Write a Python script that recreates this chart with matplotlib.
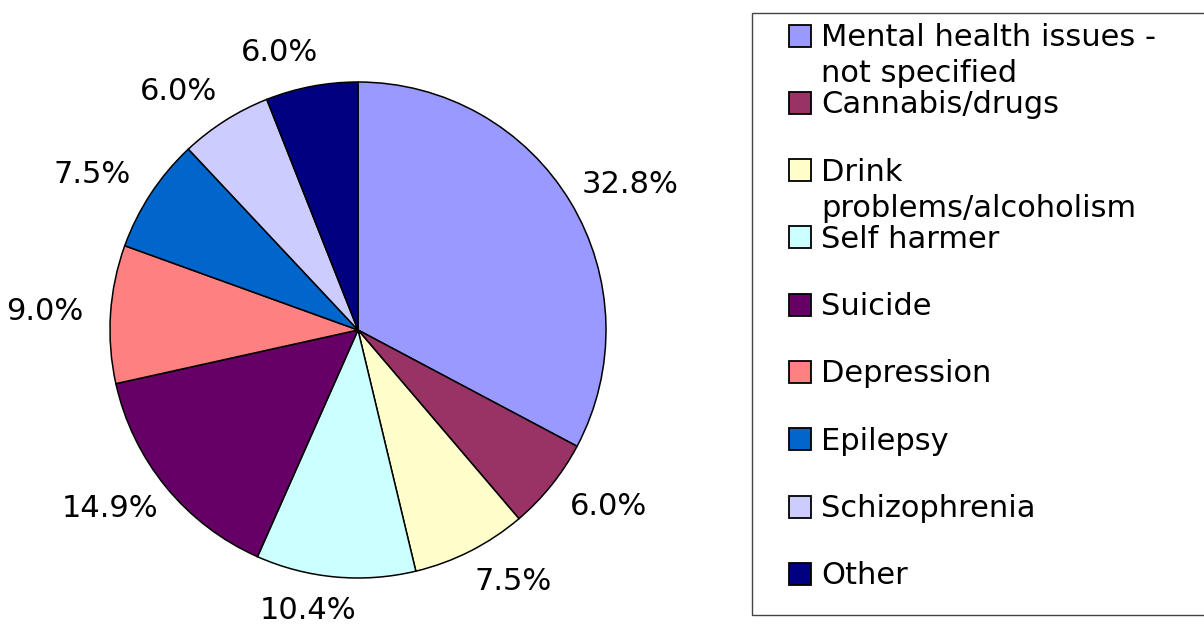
import matplotlib
matplotlib.use('Agg')
import matplotlib.pyplot as plt
import numpy as np
from matplotlib.patches import Rectangle

categories = ["Mental health issues -\nnot specified", "Cannabis/drugs",
              "Drink\nproblems/alcoholism", "Self harmer", "Suicide",
              "Depression", "Epilepsy", "Schizophrenia", "Other"]
values = [32.8, 6.0, 7.5, 10.4, 14.9, 9.0, 7.5, 6.0, 6.0]
pct_labels = ["32.8%", "6.0%", "7.5%", "10.4%", "14.9%", "9.0%", "7.5%", "6.0%", "6.0%"]
colors = ["#9999FF", "#993366", "#FFFFCC", "#CCFFFF", "#660066",
          "#FF8080", "#0066CC", "#CCCCFF", "#000080"]

plt.rcParams['font.family'] = ['DejaVu Sans']
FS = 22

W, H = 1204, 624
fig = plt.figure(figsize=(W / 100, H / 100), dpi=100)
fig.patch.set_facecolor('white')

cx, cy, R = 358, 330, 248
half = 320
ax = fig.add_axes([(cx - half) / W, (H - cy - half) / H, 2 * half / W, 2 * half / H])
wedges, _ = ax.pie(values, colors=colors, startangle=90, counterclock=False, radius=1,
                   wedgeprops=dict(edgecolor='black', linewidth=1.1))
ax.set_xlim(-half / R, half / R)
ax.set_ylim(-half / R, half / R)
ax.set_aspect('equal')
ax.axis('off')

# percentage labels outside the pie
Ax, Bx, Ay = 290 / R, 24 / R, 282 / R
for w, lab in zip(wedges, pct_labels):
    th = np.deg2rad((w.theta1 + w.theta2) / 2)
    ux, uy = np.cos(th), np.sin(th)
    ax.text(Ax * ux + np.sign(ux) * Bx, Ay * uy, lab, ha='center', va='center',
            fontsize=FS, color='black', clip_on=False)

# legend box
lx0, ly0, ly1 = 752, 13, 615
fig.patches.append(Rectangle((lx0 / W, (H - ly1) / H), (W + 10 - lx0) / W, (ly1 - ly0) / H,
                             transform=fig.transFigure, facecolor='none',
                             edgecolor='#444444', linewidth=1.0, clip_on=False))

first_baseline = 46
row_step = 67.3
line_step = 36
mx0, msz = 789, 22
tx = 821
for i, (cat, col) in enumerate(zip(categories, colors)):
    base = first_baseline + i * row_step
    mc = base - 10.5
    fig.patches.append(Rectangle((mx0 / W, (H - (mc + msz / 2)) / H), msz / W, msz / H,
                                 transform=fig.transFigure, facecolor=col,
                                 edgecolor='black', linewidth=1.3))
    for j, line in enumerate(cat.split("\n")):
        fig.text(tx / W, (H - (base + j * line_step)) / H, line, ha='left', va='baseline',
                 fontsize=FS, color='black')

fig.savefig('out.png', dpi=100, facecolor='white')
